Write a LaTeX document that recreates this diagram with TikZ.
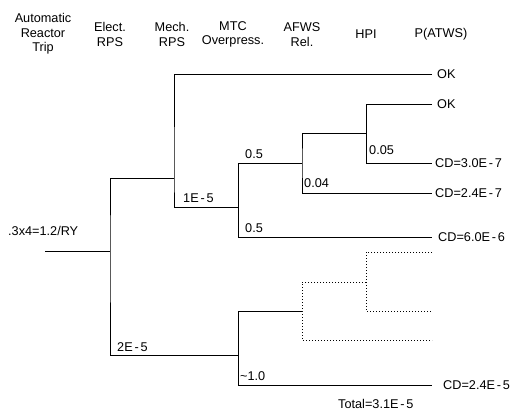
\documentclass[tikz,border=0pt]{standalone}
\usepackage{fontspec}
\setmainfont{Liberation Sans}
\begin{document}
\begin{tikzpicture}[x=1pt,y=-1pt,
  every node/.style={font=\fontsize{12.7}{14.6}\selectfont, inner sep=0pt},
  head/.style={align=center, anchor=center},
  lab/.style={anchor=west},
  br/.style={line width=0.8pt},
  dot/.style={line width=0.8pt, dash pattern=on 0.8pt off 2.2pt}]
\useasboundingbox (0,0) rectangle (531,413);
\newcommand{\hy}{\kern1.8pt-\kern1.8pt}
% headers
\node[head] (h1) at (43,34) {Automatic\\Reactor\\Trip};
\node[head] (h2) at (110,34.5) {Elect.\\RPS};
\node[head] (h3) at (172,34.5) {Mech.\\RPS};
\node[head] (h4) at (233,34.5) {MTC\\Overpress.};
\node[head] (h5) at (302,34.5) {AFWS\\Rel.};
\node[head] (h6) at (366,34.5) {HPI};
\node[head] (h7) at (441,34.5) {P(ATWS)};
% coordinates
\coordinate (s0) at (45,251);
\coordinate (a) at (110,251);
\coordinate (b) at (174,178);
\coordinate (c) at (238,207);
\coordinate (d) at (302,163);
\coordinate (e) at (366,133);
\coordinate (f) at (238,355);
\coordinate (g) at (302,311);
\coordinate (k) at (366,282);
% end labels
\node[lab] (ok1) at (437,74) {OK};
\node[lab] (ok2) at (437,104) {OK};
\node[lab] (cd1) at (435,163) {CD=3.0E\hy7};
\node[lab] (cd2) at (435,193) {CD=2.4E\hy7};
\node[lab] (cd3) at (438,237) {CD=6.0E\hy6};
\node[lab] (cd4) at (443,385) {CD=2.4E\hy5};
\coordinate (t1) at (432,74);
\coordinate (t2) at (432,104);
\coordinate (t3) at (432,163);
\coordinate (t4) at (432,193);
\coordinate (t5) at (432,237);
\coordinate (t6) at (432,385);
\coordinate (u1) at (432,252);
\coordinate (u2) at (432,311);
\coordinate (u3) at (432,340);
% solid tree
\draw[br] (s0) -- (a);
\draw[br] (b) -| (a) |- (f);
\draw[br] (t1) -| (b) |- (c);
\draw[br] (d) -| (c |- d) |- (t5);
\draw[br] (c |- d) -- (c);
\draw[br] (e) -| (d) |- (t4);
\draw[br] (t2) -| (e |- t2) |- (t3);
\draw[br] (e |- t2) -- (e);
\draw[br] (g) -| (f |- g) |- (t6);
\draw[br] (f |- g) -- (f);
% dotted part
\draw[dot] (k) -| (g) |- (u3);
\draw[dot] (u1) -| (k |- u1) |- (u2);
\draw[dot] (k |- u1) -- (k);
% branch labels
\node[lab] (l1) at (183,198) {1E\hy5};
\node[lab] (l2) at (245,154) {0.5};
\node[lab] (l3) at (369,150) {0.05};
\node[lab] (l4) at (304,183) {0.04};
\node[lab] (l5) at (245,228) {0.5};
\node[lab] (l6) at (117,347) {2E\hy5};
\node[lab] (l7) at (240,376) {\textasciitilde1.0};
\node[lab] (l8) at (8,231) {.3x4=1.2/RY};
\node[lab] (tot) at (338,404) {Total=3.1E\hy5};
\end{tikzpicture}
\end{document}
